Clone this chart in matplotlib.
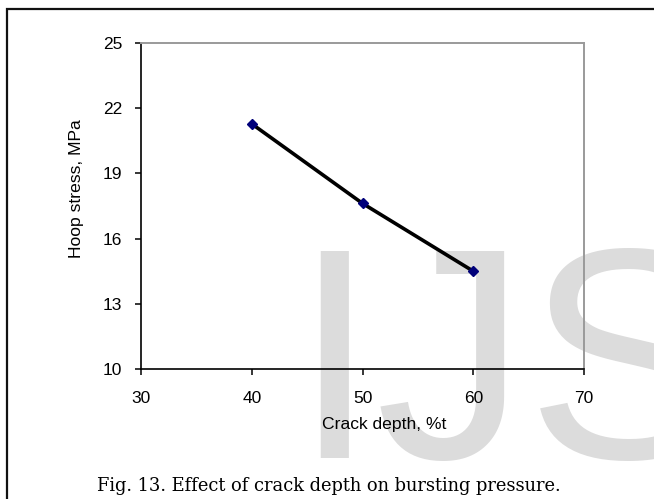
import matplotlib
matplotlib.use("Agg")
import matplotlib.pyplot as plt
from matplotlib.patches import Rectangle

# data
crack_depth = [40, 50, 60]          # %t
hoop_stress = [21.28, 17.62, 14.50]  # MPa

x_ticks = [30, 40, 50, 60, 70]
y_ticks = [10, 13, 16, 19, 22, 25]

x_label = "Crack depth, %t"
y_label = "Hoop stress, MPa"
caption = "Fig. 13. Effect of crack depth on bursting pressure."
watermark = "IJS"

W, H = 654, 499
plt.rcParams['font.family'] = ['Liberation Sans', 'DejaVu Sans']

fig = plt.figure(figsize=(W / 100, H / 100), dpi=100)
fig.patch.set_facecolor("white")

# grey watermark behind everything
fig.text(292 / W, 1 - 458 / H, watermark, fontsize=217, color="#dcdcdc",
         ha="left", va="baseline", zorder=-5)

# outer frame, only left and top edges are inside the picture
fig.patches.append(Rectangle((7 / W, -0.2), 1.2, 1.2 - 9 / H,
                             transform=fig.transFigure, fill=False,
                             edgecolor="#111111", linewidth=1.6, zorder=-4))

ax = fig.add_axes([141 / W, 1 - 369 / H, 443 / W, 326 / H])
ax.patch.set_alpha(0)

ax.plot(crack_depth, hoop_stress, color="black", linewidth=2.6,
        marker="D", markersize=5.5, markerfacecolor="#00007a",
        markeredgecolor="#00007a", zorder=3)

ax.set_xlim(x_ticks[0], x_ticks[-1])
ax.set_ylim(y_ticks[0], y_ticks[-1])
ax.set_xticks(x_ticks)
ax.set_yticks(y_ticks)

for s in ("left", "bottom"):
    ax.spines[s].set_color("black")
    ax.spines[s].set_linewidth(1.2)
for s in ("top", "right"):
    ax.spines[s].set_color("#9a9a9a")
    ax.spines[s].set_linewidth(1.4)

ax.tick_params(axis="both", direction="out", length=4, width=1.1,
               labelsize=12.5, colors="black")
ax.tick_params(axis="x", pad=12)
ax.tick_params(axis="y", pad=9.5)

fig.text(384 / W, 1 - 425 / H, x_label, fontsize=12.6, ha="center", va="center")
fig.text(77 / W, 1 - 188.5 / H, y_label, fontsize=12.6, rotation=90,
         ha="center", va="center")

cap = fig.text(97 / W, 1 - 491 / H, caption, fontsize=14,
               family="DejaVu Serif", ha="left", va="baseline")
# fit caption to the width it has in the reference (about 470 px)
r = fig.canvas.get_renderer()
w = cap.get_window_extent(r).width
cap.set_fontsize(14 * 470 / w)

fig.savefig("out.png", dpi=100)
